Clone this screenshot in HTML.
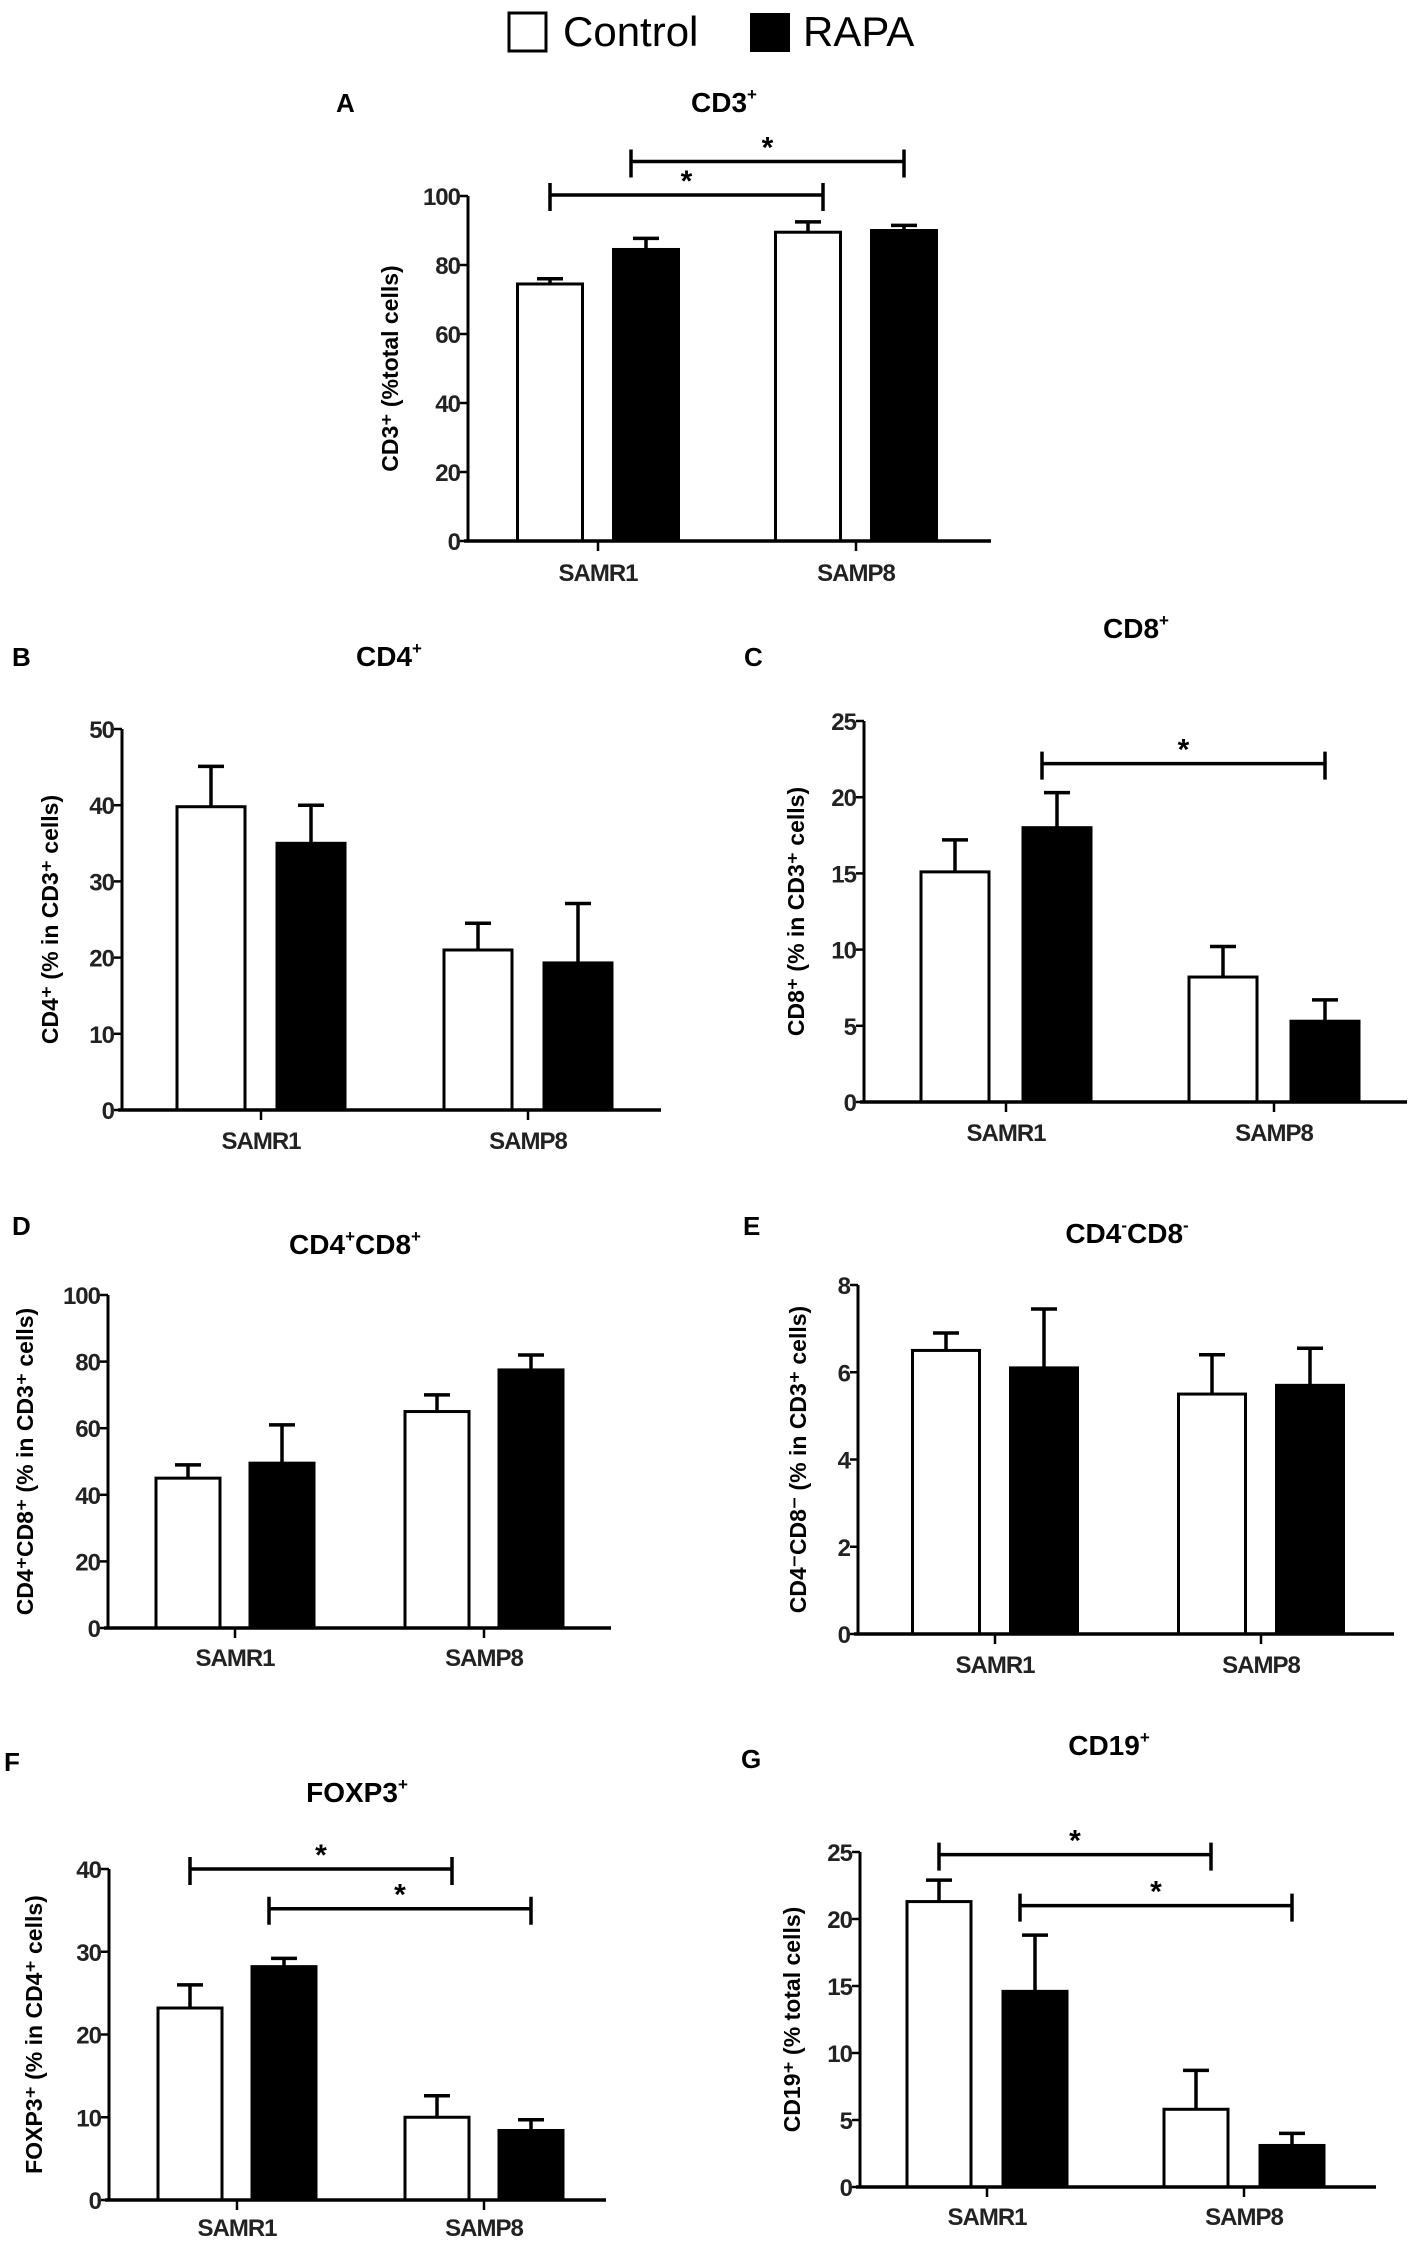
<!DOCTYPE html>
<html><head><meta charset="utf-8">
<style>
html,body{margin:0;padding:0;background:#fff;}
svg{display:block;font-family:"Liberation Sans",Arial,sans-serif;}
</style></head>
<body>
<svg id="fig" width="1411" height="2241" viewBox="0 0 1411 2241" xmlns="http://www.w3.org/2000/svg">
  <g>
    <rect x="509" y="13" width="37" height="38" fill="#fff" stroke="#000" stroke-width="3"/>
    <text x="563" y="46" font-size="42">Control</text>
    <rect x="750" y="13" width="40" height="39" fill="#000"/>
    <text x="803" y="46" font-size="42">RAPA</text>
  </g>
</svg>
<script>
const categories = ["SAMR1", "SAMP8"];
const cd3Control = [74.5, 89.5], cd3ControlErr = [1.5, 3], cd3Rapa = [84.5, 90], cd3RapaErr = [3.2, 1.5];
const cd3Ticks = [0, 20, 40, 60, 80, 100];
const cd4Control = [39.8, 21], cd4ControlErr = [5.3, 3.5], cd4Rapa = [35, 19.3], cd4RapaErr = [5, 7.8];
const cd4Ticks = [0, 10, 20, 30, 40, 50];
const cd8Control = [15.1, 8.2], cd8ControlErr = [2.1, 2], cd8Rapa = [18, 5.3], cd8RapaErr = [2.3, 1.4];
const cd8Ticks = [0, 5, 10, 15, 20, 25];
const dpControl = [45, 65], dpControlErr = [4, 5], dpRapa = [49.5, 77.5], dpRapaErr = [11.5, 4.5];
const dpTicks = [0, 20, 40, 60, 80, 100];
const dnControl = [6.5, 5.5], dnControlErr = [0.4, 0.9], dnRapa = [6.1, 5.7], dnRapaErr = [1.35, 0.85];
const dnTicks = [0, 2, 4, 6, 8];
const foxControl = [23.2, 10], foxControlErr = [2.8, 2.6], foxRapa = [28.2, 8.4], foxRapaErr = [1, 1.3];
const foxTicks = [0, 10, 20, 30, 40];
const cd19Control = [21.3, 5.8], cd19ControlErr = [1.6, 2.9], cd19Rapa = [14.6, 3.1], cd19RapaErr = [4.2, 0.9];
const cd19Ticks = [0, 5, 10, 15, 20, 25];
// significance brackets: [fromBarIndex, toBarIndex, value] bar index 0..3 (R1-ctl, R1-rapa, P8-ctl, P8-rapa)
const cd3Sig = [[0, 2, 100.3], [1, 3, 110]];
const cd8Sig = [[1, 3, 22.2]];
const foxSig = [[0, 2, 40], [1, 3, 35.2]];
const cd19Sig = [[0, 2, 24.8], [1, 3, 21]];

const NS = "http://www.w3.org/2000/svg";
const svg = document.getElementById("fig");
function mk(tag, attrs, parent) {
  const e = document.createElementNS(NS, tag);
  for (const k in attrs) e.setAttribute(k, attrs[k]);
  (parent || svg).appendChild(e);
  return e;
}

const panels = [
  {id:"a", letter:"A", lx:336, ly:112, title:"CD3", tsup:"+", tx:724, ty:112, ylab:"CD3⁺ (%total cells)", ylx:392,
   ax:468, y0:541, yTop:196, xEnd:991, max:100, ticks:cd3Ticks, centers:[598,856], off:48, bw:65,
   ctl:cd3Control, ctlE:cd3ControlErr, rap:cd3Rapa, rapE:cd3RapaErr, sig:cd3Sig, labY:581},
  {id:"b", letter:"B", lx:12, ly:666, title:"CD4", tsup:"+", tx:389, ty:666, ylab:"CD4⁺ (% in CD3⁺ cells)", ylx:52,
   ax:122, y0:1110, yTop:729, xEnd:661, max:50, ticks:cd4Ticks, centers:[261,528], off:50, bw:68,
   ctl:cd4Control, ctlE:cd4ControlErr, rap:cd4Rapa, rapE:cd4RapaErr, sig:[], labY:1149},
  {id:"c", letter:"C", lx:744, ly:666, title:"CD8", tsup:"+", tx:1136, ty:638, ylab:"CD8⁺ (% in CD3⁺ cells)", ylx:798,
   ax:864, y0:1102, yTop:721, xEnd:1407, max:25, ticks:cd8Ticks, centers:[1006,1274], off:51, bw:68,
   ctl:cd8Control, ctlE:cd8ControlErr, rap:cd8Rapa, rapE:cd8RapaErr, sig:cd8Sig, labY:1141},
  {id:"d", letter:"D", lx:12, ly:1235, title:"CD4", tsup:"+", title2:"CD8", tsup2:"+", tx:355, ty:1254, ylab:"CD4⁺CD8⁺ (% in CD3⁺ cells)", ylx:27,
   ax:108, y0:1628, yTop:1295, xEnd:611, max:100, ticks:dpTicks, centers:[235,484], off:47, bw:64,
   ctl:dpControl, ctlE:dpControlErr, rap:dpRapa, rapE:dpRapaErr, sig:[], labY:1666},
  {id:"e", letter:"E", lx:743, ly:1235, title:"CD4", tsup:"-", title2:"CD8", tsup2:"-", tx:1127, ty:1243, ylab:"CD4⁻CD8⁻ (% in CD3⁺ cells)", ylx:800,
   ax:858, y0:1634, yTop:1285, xEnd:1394, max:8, ticks:dnTicks, centers:[995,1261], off:49, bw:67,
   ctl:dnControl, ctlE:dnControlErr, rap:dnRapa, rapE:dnRapaErr, sig:[], labY:1673},
  {id:"f", letter:"F", lx:4, ly:1771, title:"FOXP3", tsup:"+", tx:357, ty:1802, ylab:"FOXP3⁺ (% in CD4⁺ cells)", ylx:36,
   ax:109, y0:2200, yTop:1869, xEnd:606, max:40, ticks:foxTicks, centers:[237,484], off:47, bw:64,
   ctl:foxControl, ctlE:foxControlErr, rap:foxRapa, rapE:foxRapaErr, sig:foxSig, labY:2236},
  {id:"g", letter:"G", lx:741, ly:1768, title:"CD19", tsup:"+", tx:1109, ty:1755, ylab:"CD19⁺ (% total cells)", ylx:794,
   ax:860, y0:2187, yTop:1852, xEnd:1376, max:25, ticks:cd19Ticks, centers:[987,1244], off:48, bw:64,
   ctl:cd19Control, ctlE:cd19ControlErr, rap:cd19Rapa, rapE:cd19RapaErr, sig:cd19Sig, labY:2225}
];

panels.forEach(p => {
  const g = mk("g", {});
  
  
  const ys = v => p.y0 - (v / p.max) * (p.y0 - p.yTop);

  const L = mk("text", {x:p.lx, y:p.ly, "font-size":26, "font-weight":"bold"}, g);
  L.textContent = p.letter;
  
  

  const T = mk("text", {x:p.tx, y:p.ty, "font-size":28, "font-weight":"bold", "text-anchor":"middle"}, g);
  
  
  const t1 = mk("tspan", {}, T); t1.textContent = p.title;
  const s1 = mk("tspan", {"font-size":17, dy:-12}, T); s1.textContent = p.tsup;
  if (p.title2) {
    const t2 = mk("tspan", {dy:12}, T); t2.textContent = p.title2;
    const s2 = mk("tspan", {"font-size":17, dy:-12}, T); s2.textContent = p.tsup2;
  }

  const yl = mk("text", {x:p.ylx, y:(p.y0 + p.yTop) / 2, "font-size":23, "font-weight":"bold", "text-anchor":"middle",
    transform:`rotate(-90 ${p.ylx} ${(p.y0 + p.yTop) / 2})`, "dominant-baseline":"middle"}, g);
  yl.textContent = p.ylab;
  
  

  const bars = [];
  categories.forEach((c, i) => {
    [[p.ctl, p.ctlE, "#fff", -p.off, "control"], [p.rap, p.rapE, "#000", p.off, "rapa"]].forEach(s => {
      const cx = p.centers[i] + s[3];
      const v = s[0][i], e = s[1][i];
      const top = ys(v);
      const r = mk("rect", {x:cx - p.bw / 2, y:top, width:p.bw, height:p.y0 - top, fill:s[2], stroke:"#000", "stroke-width":3}, g);
      
      
      const ey = ys(v + e);
      const el = mk("path", {d:`M${cx} ${top} V${ey} M${cx - 13} ${ey} H${cx + 13}`, stroke:"#000", "stroke-width":3.5, fill:"none"}, g);
      
      
      bars.push(cx);
    });
  });

  const yAx = mk("line", {x1:p.ax, y1:p.yTop, x2:p.ax, y2:p.y0, stroke:"#000", "stroke-width":3}, g);
  
  
  const xAx = mk("line", {x1:p.ax - 4, y1:p.y0, x2:p.xEnd, y2:p.y0, stroke:"#000", "stroke-width":3.5}, g);
  
  

  p.ticks.forEach(t => {
    const y = ys(t);
    const tk = mk("line", {x1:p.ax - 8, y1:y, x2:p.ax, y2:y, stroke:"#000", "stroke-width":2.5}, g);
    
    
    const tl = mk("text", {x:p.ax - 8, y:y + 9, "font-size":24, "font-weight":"bold", "letter-spacing":-1, "text-anchor":"end", fill:"#222"}, g);
    tl.textContent = t;
    
    
  });
  categories.forEach((c, i) => {
    const cx = p.centers[i];
    const tk = mk("line", {x1:cx, y1:p.y0, x2:cx, y2:p.y0 + 10, stroke:"#000", "stroke-width":2.5}, g);
    
    
    const tl = mk("text", {x:cx, y:p.labY, "font-size":24, "font-weight":"bold", "letter-spacing":-1, "text-anchor":"middle", fill:"#222"}, g);
    tl.textContent = c;
    
    
  });

  p.sig.forEach(s => {
    const x1 = bars[s[0]] + (s[0] === 0 ? 0 : -15), x2 = bars[s[1]] + (s[1] === 2 ? 15 : 0);
    const y = ys(s[2]);
    const b = mk("path", {d:`M${x1} ${y - 12} V${y + 16} M${x1} ${y} H${x2} M${x2} ${y - 12} V${y + 16}`, stroke:"#000", "stroke-width":3.5, fill:"none"}, g);
    
    
    const a = mk("text", {x:(x1 + x2) / 2, y:y - 4, "font-size":30, "font-weight":"bold", "text-anchor":"middle"}, g);
    a.textContent = "*";
    
    
  });
});
</script>
</body></html>
